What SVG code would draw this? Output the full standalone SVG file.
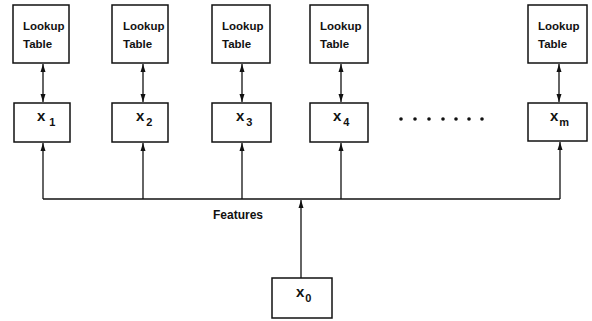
<svg xmlns="http://www.w3.org/2000/svg" width="592" height="321" viewBox="0 0 592 321">
<style>
.box{fill:#fff;stroke:#111;stroke-width:1.5}
.lbl{font-family:"Liberation Sans",Arial,sans-serif;font-weight:bold;font-size:11.5px;fill:#111}
.var{font-family:"Liberation Sans",Arial,sans-serif;font-weight:bold;font-size:15px;fill:#111}
.sub{font-size:11px}
.ln{stroke:#111;stroke-width:1.3;fill:none}
</style>
<defs>
<marker id="ah" viewBox="0 0 8 8" refX="8" refY="4" markerWidth="8" markerHeight="8" markerUnits="userSpaceOnUse" orient="auto-start-reverse">
<path d="M0,1.5 L8,4 L0,6.5 Z" fill="#111"/>
</marker>
</defs>
<g id="connectors">
<line class="ln" x1="43" y1="64" x2="43" y2="102" marker-start="url(#ah)" marker-end="url(#ah)"/>
<line class="ln" x1="143" y1="64" x2="143" y2="102" marker-start="url(#ah)" marker-end="url(#ah)"/>
<line class="ln" x1="242" y1="64" x2="242" y2="102" marker-start="url(#ah)" marker-end="url(#ah)"/>
<line class="ln" x1="341" y1="64" x2="341" y2="102" marker-start="url(#ah)" marker-end="url(#ah)"/>
<line class="ln" x1="559" y1="64" x2="559" y2="102" marker-start="url(#ah)" marker-end="url(#ah)"/>
<path class="ln" d="M43,199 H560"/>
<line class="ln" x1="43" y1="199" x2="43" y2="143" marker-end="url(#ah)"/>
<line class="ln" x1="143" y1="199" x2="143" y2="143" marker-end="url(#ah)"/>
<line class="ln" x1="242" y1="199" x2="242" y2="143" marker-end="url(#ah)"/>
<line class="ln" x1="341" y1="199" x2="341" y2="143" marker-end="url(#ah)"/>
<line class="ln" x1="560" y1="199" x2="560" y2="142" marker-end="url(#ah)"/>
<line class="ln" x1="301" y1="278" x2="301" y2="200" marker-end="url(#ah)"/>
</g>
<g id="lut1"><rect class="box" x="13" y="5" width="56" height="58"/><text class="lbl" x="23" y="30">Lookup</text><text class="lbl" x="23" y="48">Table</text></g>
<g id="lut2"><rect class="box" x="112" y="5" width="56" height="58"/><text class="lbl" x="123" y="30">Lookup</text><text class="lbl" x="123" y="48">Table</text></g>
<g id="lut3"><rect class="box" x="212" y="5" width="58" height="58"/><text class="lbl" x="222" y="30">Lookup</text><text class="lbl" x="222" y="48">Table</text></g>
<g id="lut4"><rect class="box" x="310" y="5" width="58" height="58"/><text class="lbl" x="320" y="30">Lookup</text><text class="lbl" x="320" y="48">Table</text></g>
<g id="lutm"><rect class="box" x="528" y="5" width="59" height="58"/><text class="lbl" x="538" y="30">Lookup</text><text class="lbl" x="538" y="48">Table</text></g>
<g id="x1"><rect class="box" x="14" y="103" width="56" height="39"/><text class="var" x="37" y="121">x<tspan class="sub" dx="4" dy="5">1</tspan></text></g>
<g id="x2"><rect class="box" x="112" y="103" width="56" height="39"/><text class="var" x="136" y="121">x<tspan class="sub" dx="2" dy="5">2</tspan></text></g>
<g id="x3"><rect class="box" x="212" y="103" width="59" height="39"/><text class="var" x="236" y="121">x<tspan class="sub" dx="2" dy="5">3</tspan></text></g>
<g id="x4"><rect class="box" x="310" y="103" width="58" height="39"/><text class="var" x="333" y="121">x<tspan class="sub" dx="2" dy="5">4</tspan></text></g>
<g id="xm"><rect class="box" x="528" y="103" width="59" height="38"/><text class="var" x="550" y="121">x<tspan class="sub" dx="1" dy="5">m</tspan></text></g>
<g id="dots" fill="#111">
<circle cx="401" cy="119" r="1.8"/><circle cx="415" cy="119" r="1.8"/><circle cx="429" cy="119" r="1.8"/><circle cx="443" cy="119" r="1.8"/><circle cx="456" cy="119" r="1.8"/><circle cx="469" cy="119" r="1.8"/><circle cx="482" cy="119" r="1.8"/>
</g>
<g id="features"><text class="lbl" x="213" y="219" style="font-size:12px">Features</text></g>
<g id="x0"><rect class="box" x="272" y="278" width="60" height="40"/><text class="var" x="296" y="297">x<tspan class="sub" dx="1" dy="5">0</tspan></text></g>
</svg>
